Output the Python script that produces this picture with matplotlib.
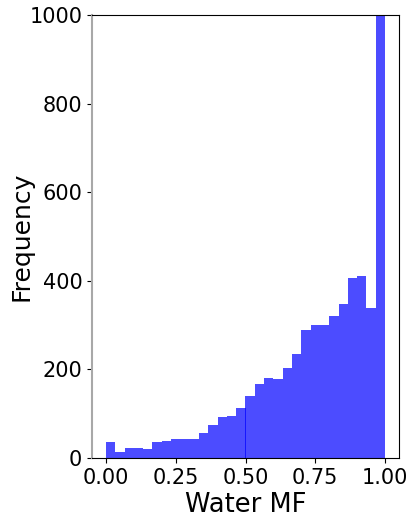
import numpy as np
import matplotlib
matplotlib.use("Agg")
import matplotlib.pyplot as plt

# Histogram of water mass fraction (30 bins from 0 to 1)
bin_edges = np.linspace(0, 1, 31)
counts = [37, 14, 22, 23, 21, 35, 38, 44, 44, 44,
          56, 74, 92, 95, 113, 139, 166, 180, 178, 203,
          235, 290, 300, 300, 321, 348, 406, 411, 338, 1500]
y_ticks = [0, 200, 400, 600, 800, 1000]
x_ticks = [0.0, 0.25, 0.5, 0.75, 1.0]

fig = plt.figure(figsize=(4.15, 5.19), dpi=100)
ax = fig.add_axes([92/415, 1 - 458/519, (399-92)/415, (458-15)/519])

centers = (bin_edges[:-1] + bin_edges[1:]) / 2
ax.hist(centers, bins=bin_edges, weights=counts, color="blue", alpha=0.7)

ax.set_ylim(0, 1000)
ax.set_xlim(-0.05, 1.05)
ax.set_yticks(y_ticks)
ax.set_xticks(x_ticks)
ax.set_xticklabels([f"{v:.2f}" for v in x_ticks])
ax.tick_params(labelsize=15)
ax.set_xlabel("Water MF", fontsize=18.5, labelpad=3)
ax.set_ylabel("Frequency", fontsize=18)
ax.yaxis.set_label_coords(-0.19, 0.5)
ax.spines["left"].set_color("#a8a8a8")
ax.spines["left"].set_linewidth(1.5)

fig.savefig("out.png", dpi=100)
